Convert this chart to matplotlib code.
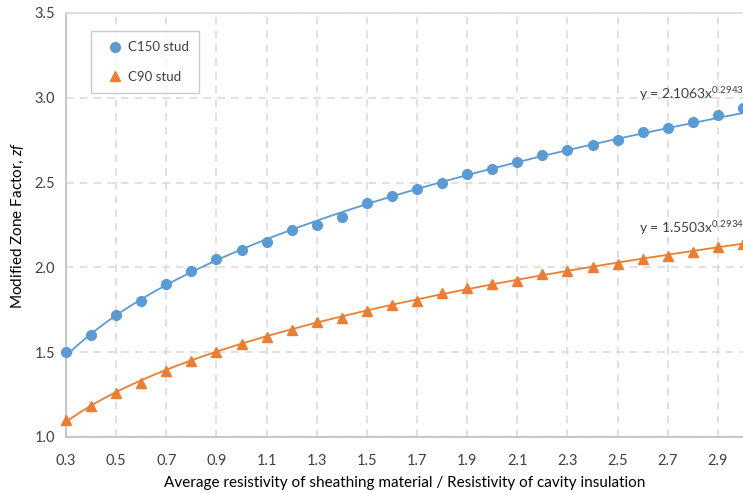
import numpy as np
import matplotlib
matplotlib.use("Agg")
import matplotlib.pyplot as plt

plt.rcParams['font.family'] = ['Lato', 'DejaVu Sans']
plt.rcParams['mathtext.fontset'] = 'custom'
plt.rcParams['mathtext.it'] = 'Lato:italic'
plt.rcParams['mathtext.rm'] = 'Lato'

ratio = [0.3, 0.4, 0.5, 0.6, 0.7, 0.8, 0.9, 1.0, 1.1, 1.2, 1.3, 1.4, 1.5, 1.6,
         1.7, 1.8, 1.9, 2.0, 2.1, 2.2, 2.3, 2.4, 2.5, 2.6, 2.7, 2.8, 2.9, 3.0]
c150 = [1.50, 1.60, 1.72, 1.80, 1.90, 1.98, 2.05, 2.10, 2.15, 2.22, 2.25, 2.30, 2.38, 2.42,
        2.46, 2.50, 2.55, 2.58, 2.62, 2.66, 2.69, 2.72, 2.75, 2.80, 2.82, 2.86, 2.90, 2.94]
c90 = [1.10, 1.18, 1.26, 1.32, 1.39, 1.45, 1.50, 1.55, 1.59, 1.63, 1.68, 1.70, 1.74, 1.78,
       1.80, 1.85, 1.88, 1.90, 1.92, 1.96, 1.98, 2.00, 2.02, 2.05, 2.07, 2.09, 2.12, 2.14]

# power trendline coefficients shown on the chart
c150_a, c150_b = 2.1063, 0.2943
c90_a, c90_b = 1.5503, 0.2934

xticks = [0.3, 0.5, 0.7, 0.9, 1.1, 1.3, 1.5, 1.7, 1.9, 2.1, 2.3, 2.5, 2.7, 2.9]
yticks = [1.0, 1.5, 2.0, 2.5, 3.0, 3.5]

blue = '#5B9BD5'
orange = '#ED7D31'
grid_c = '#D9D9D9'

fig = plt.figure(figsize=(7.43, 4.93), dpi=100)
ax = fig.add_axes([66/743, 1 - 437/493, 677/743, 424/493])

xs = np.linspace(0.3, 3.0, 300)
ax.plot(xs, c150_a * xs ** c150_b, color=blue, lw=1.3, zorder=3)
ax.plot(xs, c90_a * xs ** c90_b, color=orange, lw=1.3, zorder=3)
ax.plot(ratio, c150, 'o', color=blue, ms=7, label='C150 stud', zorder=4, clip_on=False)
ax.plot(ratio, c90, '^', color=orange, ms=7, label='C90 stud', zorder=4, clip_on=False)

ax.set_xlim(0.3, 3.0)
ax.set_ylim(1.0, 3.5)
ax.set_xticks(xticks)
ax.set_xticklabels([f'{t:.1f}' for t in xticks])
ax.set_yticks(yticks)
ax.set_yticklabels([f'{t:.1f}' for t in yticks])
ax.tick_params(length=0, labelsize=10.5, colors='#404040', pad=12)
ax.tick_params(axis='y', pad=8)

ax.grid(True, color=grid_c, ls=(0, (5, 4)), lw=1.1)
ax.set_axisbelow(True)
ax.spines['right'].set_visible(False)
for s in ['left', 'bottom', 'top']:
    ax.spines[s].set_color('#BFBFBF')
    ax.spines[s].set_linewidth(1.2)
ax.spines['top'].set_color('#D9D9D9')

ax.set_xlabel('Average resistivity of sheathing material / Resistivity of cavity insulation',
              fontsize=11, color='#000000', labelpad=6)
ax.set_ylabel('Modified Zone Factor, $zf$', fontsize=11, color='#000000', labelpad=6)

ax.text(2.585, 3.02, 'y = 2.1063x$^{0.2943}$', fontsize=10, color='#404040', va='center')
ax.text(2.585, 2.23, 'y = 1.5503x$^{0.2934}$', fontsize=10, color='#404040', va='center')

leg = ax.legend(loc='upper left', bbox_to_anchor=(0.037, 0.958), frameon=True,
                fancybox=False, edgecolor='#BFBFBF', fontsize=9.5, labelspacing=1.3,
                handletextpad=0.0, borderpad=0.8, handlelength=2.0, borderaxespad=0)
leg.get_frame().set_linewidth(1.0)
for t in leg.get_texts():
    t.set_color('#404040')

fig.savefig('out.png', dpi=100)
